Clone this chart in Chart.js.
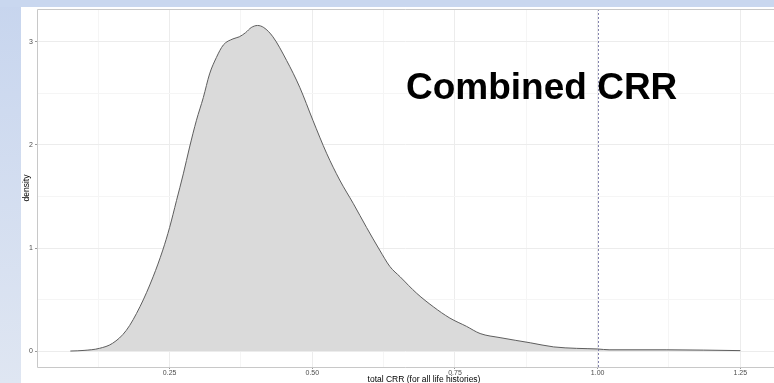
<!DOCTYPE html>
<html>
<head>
<meta charset="utf-8">
<script src="https://cdn.jsdelivr.net/npm/chart.js@4.4.1/dist/chart.umd.min.js"></script>
<style>
html,body{margin:0;padding:0;background:#fff;}
#wrap{position:relative;width:774px;height:383px;}
canvas{display:block;}
</style>
</head>
<body>
<div id="wrap"><canvas id="c" width="774" height="383"></canvas></div>
<script>
// ---- data ----
const densityX = [0.076,0.100,0.127,0.150,0.174,0.198,0.221,0.238,0.250,0.262,0.274,0.285,0.297,0.309,0.320,0.332,0.344,0.361,0.372,0.383,0.393,0.404,0.415,0.431,0.455,0.478,0.501,0.525,0.548,0.572,0.595,0.618,0.636,0.654,0.683,0.712,0.741,0.770,0.794,0.829,0.882,0.923,0.963,1.000,1.020,1.120,1.250];
const densityY = [0.000,0.006,0.026,0.075,0.200,0.430,0.720,0.980,1.200,1.460,1.720,1.980,2.240,2.460,2.690,2.850,2.970,3.030,3.050,3.090,3.140,3.160,3.140,3.050,2.820,2.560,2.240,1.920,1.660,1.430,1.200,0.980,0.820,0.720,0.560,0.430,0.320,0.240,0.170,0.130,0.080,0.040,0.026,0.020,0.012,0.012,0.004];
const xTickValues = [0.125,0.25,0.375,0.5,0.625,0.75,0.875,1.0,1.125,1.25];
const xTickLabels = {0.25:'0.25',0.5:'0.50',0.75:'0.75',1.0:'1.00',1.25:'1.25'};
const yTickValues = [0,0.5,1,1.5,2,2.5,3];
const yTickLabels = {0:'0',1:'1',2:'2',3:'3'};
const vlineX = 1.0;
const titleText = 'Combined CRR';
const xTitle = 'total CRR (for all life histories)';
const yTitle = 'density';

const points = densityX.map((x,i)=>({x:x,y:densityY[i]}));

const bgPlugin = {
  id:'bg',
  beforeDraw(chart){
    const ctx = chart.ctx;
    ctx.save();
    const g = ctx.createLinearGradient(0,0,0,383);
    g.addColorStop(0,'#c7d5ee');
    g.addColorStop(1,'#dfe6f2');
    ctx.fillStyle = g;
    ctx.fillRect(0,0,774,383);
    ctx.fillStyle = '#c9d7ef';
    ctx.fillRect(0,0,774,7);
    ctx.fillStyle = '#ffffff';
    ctx.fillRect(21,7,753,376);
    ctx.restore();
  },
  afterDatasetsDraw(chart){
    const ctx = chart.ctx;
    const a = chart.chartArea;
    const xs = chart.scales.x;
    ctx.save();
    // dashed vertical reference line
    const px = Math.round(xs.getPixelForValue(vlineX))+0.5;
    ctx.strokeStyle = 'rgba(110,110,160,0.85)';
    ctx.lineWidth = 1;
    ctx.setLineDash([2,2]);
    ctx.beginPath();
    ctx.moveTo(px,a.top);
    ctx.lineTo(px,a.bottom);
    ctx.stroke();
    ctx.setLineDash([]);
    // panel border
    ctx.strokeStyle = '#c8c8c8';
    ctx.lineWidth = 1;
    ctx.beginPath();
    ctx.moveTo(a.right,a.top+0.5);
    ctx.lineTo(a.left+0.5,a.top+0.5);
    ctx.lineTo(a.left+0.5,a.bottom+0.5);
    ctx.lineTo(a.right,a.bottom+0.5);
    ctx.stroke();
    // annotation title
    ctx.fillStyle = '#000';
    ctx.font = 'bold 37px "Liberation Sans", Arial, sans-serif';
    ctx.textBaseline = 'alphabetic';
    ctx.textAlign = 'left';
    ctx.fillText(titleText, 406, 99);
    // axis titles
    ctx.font = '8.5px "Liberation Sans", Arial, sans-serif';
    ctx.textAlign = 'center';
    ctx.textBaseline = 'middle';
    ctx.fillText(xTitle, 424, 379.5);
    ctx.save();
    ctx.translate(26.5, 188);
    ctx.rotate(-Math.PI/2);
    ctx.fillText(yTitle, 0, 0);
    ctx.restore();
    ctx.restore();
  }
};

new Chart(document.getElementById('c'), {
  type:'scatter',
  data:{datasets:[{
    data:points,
    showLine:true,
    fill:'origin',
    backgroundColor:'#dadada',
    borderColor:'#5e5e5e',
    borderWidth:1,
    pointRadius:0,
    cubicInterpolationMode:'monotone'
  }]},
  options:{
    responsive:false,
    animation:false,
    layout:{padding:{top:9,right:0,bottom:0,left:0}},
    plugins:{legend:{display:false},tooltip:{enabled:false}},
    scales:{
      x:{
        type:'linear',
        min:0.0176,
        max:1.309,
        afterBuildTicks(s){ s.ticks = xTickValues.map(v=>({value:v})); },
        afterFit(s){ s.height = 16; },
        border:{display:false},
        grid:{
          color:(c)=> (xTickLabels[c.tick && c.tick.value] ? '#ececec' : '#f5f5f5'),
          tickColor:(c)=> (xTickLabels[c.tick && c.tick.value] ? '#999' : 'rgba(0,0,0,0)'),
          tickLength:2,
          drawTicks:true
        },
        ticks:{
          autoSkip:false,
          maxRotation:0,
          padding:0,
          color:'#4d4d4d',
          font:{family:'"Liberation Sans", Arial, sans-serif',size:7},
          callback:(v)=> xTickLabels[v] || ''
        }
      },
      y:{
        type:'linear',
        min:-0.155,
        max:3.32,
        afterBuildTicks(s){ s.ticks = yTickValues.map(v=>({value:v})); },
        afterFit(s){ s.width = 37; },
        border:{display:false},
        grid:{
          color:(c)=> (yTickLabels[c.tick && c.tick.value]!==undefined ? '#ececec' : '#f5f5f5'),
          tickColor:(c)=> (yTickLabels[c.tick && c.tick.value]!==undefined ? '#999' : 'rgba(0,0,0,0)'),
          tickLength:2,
          drawTicks:true
        },
        ticks:{
          autoSkip:false,
          padding:2,
          color:'#4d4d4d',
          font:{family:'"Liberation Sans", Arial, sans-serif',size:7},
          callback:(v)=> (yTickLabels[v]!==undefined ? yTickLabels[v] : '')
        }
      }
    }
  },
  plugins:[bgPlugin]
});
</script>
</body>
</html>
